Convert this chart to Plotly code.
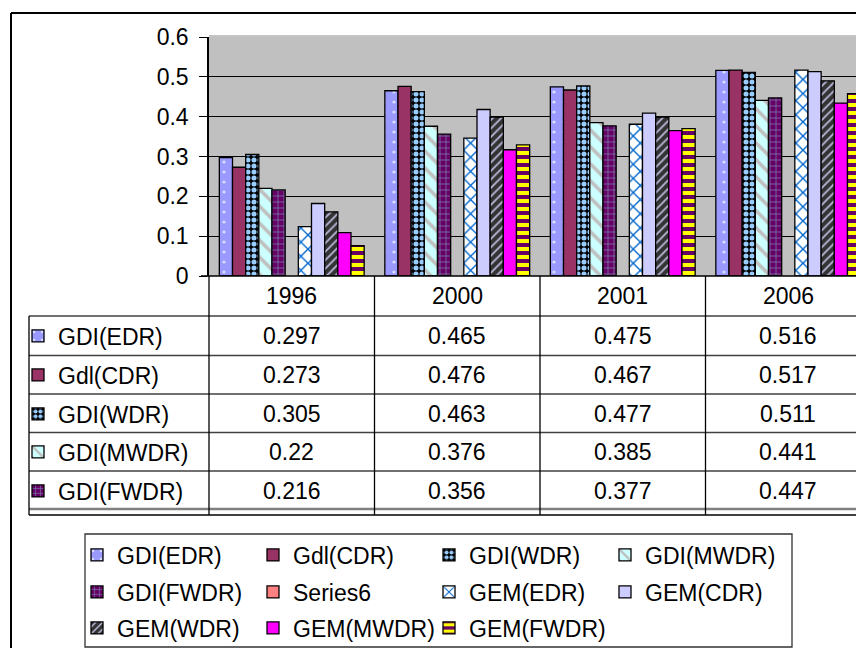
import plotly.graph_objects as go

W, H = 856, 648
def X(px): return px / W
def Y(py): return 1 - py / H

categories = ["1996", "2000", "2001", "2006"]
series_names = ["GDI(EDR)", "Gdl(CDR)", "GDI(WDR)", "GDI(MWDR)", "GDI(FWDR)", "Series6",
                "GEM(EDR)", "GEM(CDR)", "GEM(WDR)", "GEM(MWDR)", "GEM(FWDR)"]
gdi_edr = [0.297, 0.465, 0.475, 0.516]
gdi_cdr = [0.273, 0.476, 0.467, 0.517]
gdi_wdr = [0.305, 0.463, 0.477, 0.511]
gdi_mwdr = [0.22, 0.376, 0.385, 0.441]
gdi_fwdr = [0.216, 0.356, 0.377, 0.447]
series6 = [None, None, None, None]
gem_edr = [0.124, 0.346, 0.381, 0.517]
gem_cdr = [0.182, 0.418, 0.409, 0.513]
gem_wdr = [0.161, 0.399, 0.399, 0.490]
gem_mwdr = [0.109, 0.317, 0.365, 0.434]
gem_fwdr = [0.076, 0.329, 0.370, 0.458]
values = [gdi_edr, gdi_cdr, gdi_wdr, gdi_mwdr, gdi_fwdr, series6,
          gem_edr, gem_cdr, gem_wdr, gem_mwdr, gem_fwdr]
table_series = [0, 1, 2, 3, 4]  # rows visible in the data table
y_ticks = [0, 0.1, 0.2, 0.3, 0.4, 0.5, 0.6]
y_tick_text = ["0", "0.1", "0.2", "0.3", "0.4", "0.5", "0.6"]

styles = [
    dict(color="#9999FF", pattern=dict(shape=".", bgcolor="#9999FF", fgcolor="#DDDDFF", size=10, solidity=0.08)),
    dict(color="#993366"),
    dict(color="#000000", pattern=dict(shape=".", bgcolor="#000000", fgcolor="#99CCFF", size=6, solidity=0.55)),
    dict(color="#CCFFFF", pattern=dict(shape="\\", bgcolor="#CCFFFF", fgcolor="#C0C0C0", size=12, solidity=0.3)),
    dict(color="#660066", pattern=dict(shape="+", bgcolor="#660066", fgcolor="#7A7AA8", size=6, solidity=0.25)),
    dict(color="#FF8080"),
    dict(color="#FFFFFF", pattern=dict(shape="x", bgcolor="#FFFFFF", fgcolor="#0066CC", size=10, solidity=0.25)),
    dict(color="#CCCCFF"),
    dict(color="#333333", pattern=dict(shape="/", bgcolor="#333333", fgcolor="#BBBBDD", size=6, solidity=0.3)),
    dict(color="#FF00FF"),
    dict(color="#660066", pattern=dict(shape="-", bgcolor="#660066", fgcolor="#FFFF00", size=8, solidity=0.5)),
]

FONT = "Liberation Sans, Arial, sans-serif"
FS = 23

fig = go.Figure()

# legend layout (text start x, row center y)
leg_cols = [117, 293, 469, 645]
leg_rows = [555, 592, 628]
row_centers = [336, 375, 414, 452, 491]

def marker_for(st):
    m = dict(color=st["color"], line=dict(color="#000000", width=1.3))
    if "pattern" in st:
        p = dict(st["pattern"])
        p["fgopacity"] = 1
        m["pattern"] = p
    return m

for i, (name, vals, st) in enumerate(zip(series_names, values, styles)):
    lid = "legend" if i == 0 else f"legend{i+1}"
    fig.add_trace(go.Bar(x=categories, y=vals, name=name, marker=marker_for(st),
                         legend=lid, offsetgroup=f"g{i}"))

# empty traces that only provide the keys of the data-table rows
for k, si in enumerate(table_series):
    fig.add_trace(go.Bar(x=[None], y=[None], name=series_names[si], marker=marker_for(styles[si]),
                         legend=f"legend{12+k}", offsetgroup=f"g{si}"))

layout_legends = {}
for i in range(11):
    r, c = divmod(i, 4)
    lid = "legend" if i == 0 else f"legend{i+1}"
    layout_legends[lid] = dict(x=X(leg_cols[c] - 40), y=Y(leg_rows[r]), xanchor="left", yanchor="middle",
                               bgcolor="rgba(0,0,0,0)", borderwidth=0,
                               font=dict(family=FONT, size=FS, color="#000000"))
for k in range(5):
    layout_legends[f"legend{12+k}"] = dict(x=X(58 - 40), y=Y(row_centers[k]), xanchor="left", yanchor="middle",
                                          bgcolor="rgba(0,0,0,0)", borderwidth=0,
                                          font=dict(family=FONT, size=FS, color="#000000"))

cat_w = 165.5
x_left = 209
y0_px, y6_px = 276, 37

fig.update_layout(
    width=W, height=H,
    margin=dict(l=0, r=0, t=0, b=0, autoexpand=False),
    paper_bgcolor="#FFFFFF",
    plot_bgcolor="#C0C0C0",
    barmode="group", bargap=0.125, bargroupgap=0,
    showlegend=True,
    font=dict(family=FONT, size=FS, color="#000000"),
    xaxis=dict(domain=[X(x_left), 1], range=[-0.5, -0.5 + (W - x_left) / cat_w],
               showticklabels=False, showgrid=False, zeroline=False, showline=False, ticks=""),
    yaxis=dict(domain=[Y(y0_px), Y(y6_px)], range=[0, 0.6], tickvals=y_ticks, ticktext=y_tick_text,
               showgrid=True, gridcolor="#000000", gridwidth=1, zeroline=False,
               showline=True, linecolor="#000000", linewidth=1.5,
               ticks="outside", ticklen=8, tickcolor="#000000", ticklabelstandoff=6,
               tickfont=dict(family=FONT, size=FS, color="#000000")),
    **layout_legends,
)

shapes = []
def line(x0, y0, x1, y1, color="#000000", width=1):
    shapes.append(dict(type="line", xref="paper", yref="paper", x0=X(x0), y0=Y(y0), x1=X(x1), y1=Y(y1),
                       line=dict(color=color, width=width)))

# outer chart frame
line(11, 13, 11, 660, width=2)
line(11, 13, 870, 13, width=2)
# plot area top light line
line(209, 36, 870, 36, color="#888888", width=1)
# x axis line
line(201, 276, 870, 276, width=1.5)
# table horizontal lines
for yy in [316, 355.5, 394, 432.5, 471]:
    line(29, yy, 870, yy, color="#404040", width=1.5)
line(29, 509, 870, 509, color="#808080", width=2.5)
line(29, 515, 870, 515, color="#000000", width=1.3)
# table vertical lines
line(29, 316, 29, 515, width=1.3)
for j in range(4):
    xx = x_left + cat_w * j
    line(xx, 276, xx, 515, width=1.3)
# legend box
shapes.append(dict(type="rect", xref="paper", yref="paper", x0=X(85), y0=Y(534), x1=X(792), y1=Y(647),
                   line=dict(color="#333333", width=1.3), fillcolor="rgba(0,0,0,0)"))

annotations = []
col_centers = [x_left + cat_w * (j + 0.5) for j in range(4)]
for j, cat in enumerate(categories):
    annotations.append(dict(text=cat, x=X(col_centers[j]), y=Y(296), xref="paper", yref="paper",
                            xanchor="center", yanchor="middle", showarrow=False,
                            font=dict(family=FONT, size=FS, color="#000000")))
for k, si in enumerate(table_series):
    for j in range(4):
        v = values[si][j]
        annotations.append(dict(text=f"{v:g}", x=X(col_centers[j]), y=Y(row_centers[k]), xref="paper", yref="paper",
                                xanchor="center", yanchor="middle", showarrow=False,
                                font=dict(family=FONT, size=FS, color="#000000")))

fig.update_layout(shapes=shapes, annotations=annotations)
fig.write_html("out.html")
